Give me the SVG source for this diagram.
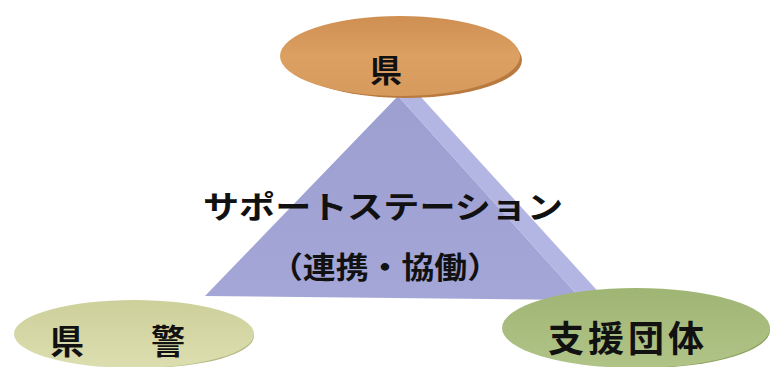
<svg xmlns="http://www.w3.org/2000/svg" width="773" height="367" viewBox="0 0 773 367">
<defs>
<linearGradient id="gOr" x1="0" y1="0" x2="0" y2="1"><stop offset="0" stop-color="#cf8f52"/><stop offset="0.5" stop-color="#dba062"/><stop offset="1" stop-color="#d69a5c"/></linearGradient>
<linearGradient id="gYe" x1="0" y1="0" x2="0" y2="1"><stop offset="0" stop-color="#cdd09a"/><stop offset="1" stop-color="#dcdeb0"/></linearGradient>
<linearGradient id="gGr" x1="0" y1="0" x2="0" y2="1"><stop offset="0" stop-color="#9fb574"/><stop offset="1" stop-color="#b1c488"/></linearGradient>
<linearGradient id="gPy" x1="0" y1="0" x2="0" y2="1"><stop offset="0" stop-color="#9c9fd0"/><stop offset="1" stop-color="#a4a6d8"/></linearGradient>
</defs>
<style>
text{font-family:"Noto Sans CJK JP","Noto Sans",sans-serif;font-weight:bold;fill:#111;text-anchor:middle}
</style>
<rect width="773" height="367" fill="#ffffff"/>
<g id="pyramid">
<polygon points="398,96 205,296 582,300" fill="url(#gPy)"/>
<polygon points="398,96 420,96 604,298 582,300" fill="#b3b5e3"/>
</g>
<g id="connectors"></g>
<g id="ken">
<ellipse cx="406" cy="60" rx="116" ry="38" fill="#b97a40"/>
<ellipse cx="400" cy="56" rx="120" ry="40" fill="url(#gOr)"/>
<text x="386" y="82" font-size="32">県</text>
</g>
<g id="kenkei">
<ellipse cx="142" cy="336" rx="112" ry="32" fill="#b7b985"/>
<ellipse cx="134" cy="334" rx="120" ry="34" fill="url(#gYe)"/>
<text x="67" y="354" font-size="34">県</text>
<text x="168" y="354" font-size="34">警</text>
</g>
<g id="shien">
<ellipse cx="644" cy="330" rx="126" ry="38" fill="#8da15f"/>
<ellipse cx="636" cy="328" rx="134" ry="40" fill="url(#gGr)"/>
<text x="628" y="352" font-size="36" letter-spacing="4">支援団体</text>
</g>
<g id="station">
<text x="383" y="218" font-size="31" textLength="360" lengthAdjust="spacingAndGlyphs">サポートステーション</text>
<text x="385" y="278" font-size="30" textLength="230" lengthAdjust="spacingAndGlyphs">（連携・協働）</text>
</g>
</svg>
